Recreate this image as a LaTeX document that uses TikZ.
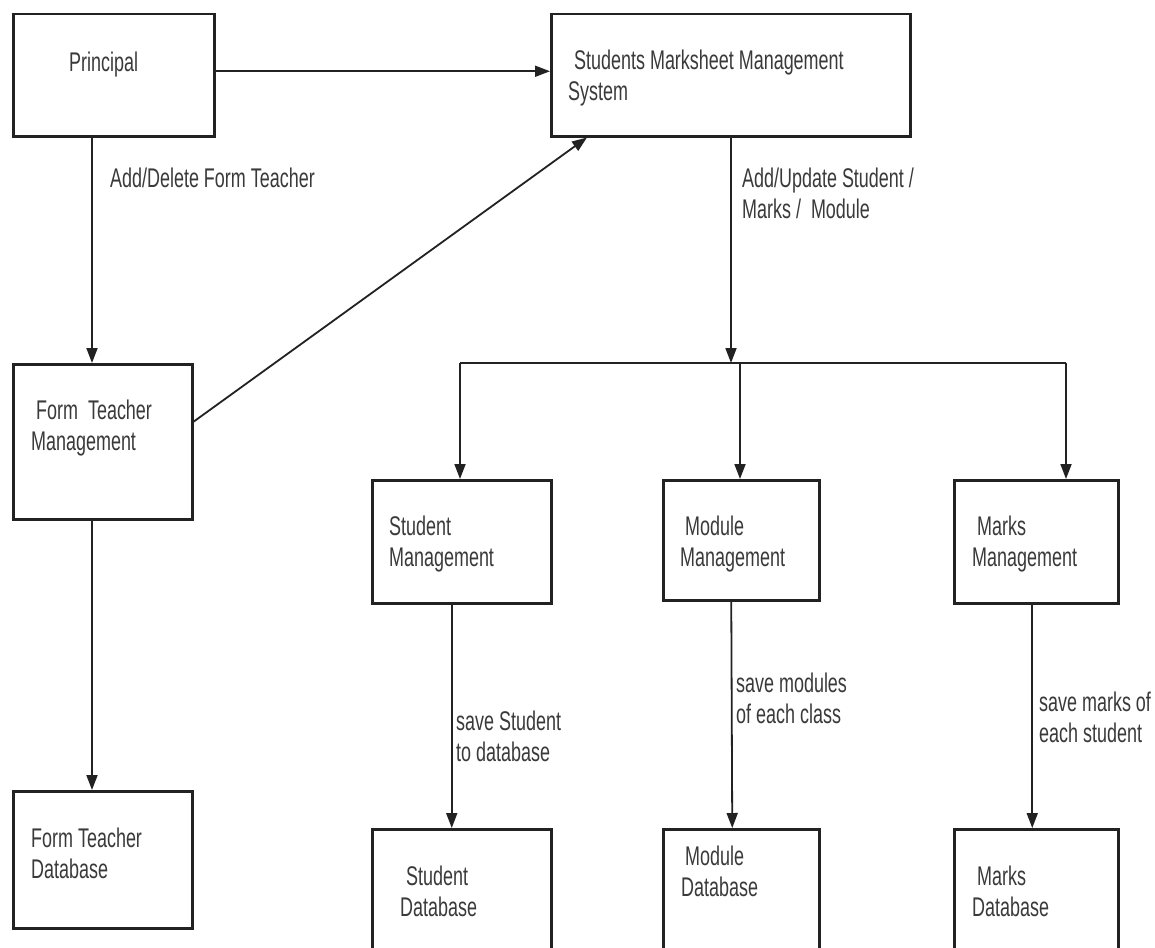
\documentclass[tikz,border=0pt]{standalone}
\usepackage{fontspec}
\setmainfont{Liberation Sans}[FakeStretch=0.665]
\usetikzlibrary{arrows.meta}
\definecolor{linec}{HTML}{222222}
\definecolor{txtc}{HTML}{3A3A3A}
\begin{document}
\begin{tikzpicture}[x=1pt,y=-1pt,
  box/.style={draw=linec, line width=2.5pt, inner sep=0pt, anchor=north west, fill=white},
  lbl/.style={text=txtc, inner sep=0pt, anchor=base west, align=left, font=\fontsize{27}{31}\selectfont},
  arr/.style={draw=linec, line width=1.8pt, -{Triangle[length=15pt,width=11pt]}},
  ln/.style={draw=linec, line width=1.8pt}]
\useasboundingbox (0,0) rectangle (1155,947);
\clip (0,0) rectangle (1155,947);
\fill[white] (0,0) rectangle (1155,947);
% boxes
\node[box, minimum width=201pt, minimum height=122pt] (p) at (12,13) {};
\node[box, minimum width=359pt, minimum height=122pt] (sms) at (550,13) {};
\node[box, minimum width=179pt, minimum height=155pt] (ftm) at (12,363) {};
\node[box, minimum width=179pt, minimum height=137pt] (ftd) at (12,790) {};
\node[box, minimum width=179pt, minimum height=123pt] (sm) at (371,479) {};
\node[box, minimum width=156pt, minimum height=120pt] (mm) at (662,479) {};
\node[box, minimum width=164pt, minimum height=123pt] (km) at (953,479) {};
\node[box, minimum width=179pt, minimum height=140pt] (sd) at (371,828) {};
\node[box, minimum width=156pt, minimum height=140pt] (md) at (662,828) {};
\node[box, minimum width=164pt, minimum height=140pt] (kd) at (953,828) {};
% box texts (anchor = baseline of last line)
\node[lbl] (tp) at (69,72) {Principal};
\node[lbl] (tsms) at (568,101) {\hspace*{6pt}Students Marksheet Management\\System};
\node[lbl] (tftm) at (31,450) {\hspace*{5pt}Form\ \ Teacher\\Management};
\node[lbl] (tftd) at (31,878) {Form Teacher\\Database};
\node[lbl] (tsm) at (389,566) {Student\\Management};
\node[lbl] (tmm) at (680,566) {\hspace*{5pt}Module\\Management};
\node[lbl] (tkm) at (972,566) {\hspace*{5pt}Marks\\Management};
\node[lbl] (tsd) at (400,916) {\hspace*{6pt}Student\\Database};
\node[lbl] (tmd) at (681,896) {\hspace*{4pt}Module\\Database};
\node[lbl] (tkd) at (972,916) {\hspace*{5pt}Marks\\Database};
% connector labels
\node[lbl] (l1) at (110,187) {Add/Delete Form Teacher};
\node[lbl] (l2) at (742,218) {Add/Update Student /\\Marks /\ \ Module};
\node[lbl] (l3) at (456,761) {save Student\\to database};
\node[lbl] (l4) at (736,723) {save modules\\of each class};
\node[lbl] (l5) at (1039,742) {save marks of\\each student};
% junction coordinates
\coordinate (j) at (731,363);
\coordinate (bl) at (460,363);
\coordinate (bm) at (740,363);
\coordinate (br) at (1066,363);
% connectors
\draw[arr] ([yshift=4pt]p.east) -- ([yshift=4pt]p.east -| sms.west);
\draw[arr] ([xshift=80pt]p.south west) -- ([xshift=80pt]ftm.north west);
\draw[arr] ([yshift=20pt]ftm.east) -- ([xshift=37pt]sms.south west);
\draw[arr] ([xshift=80pt]ftm.south west) -- ([xshift=80pt]ftd.north west);
\draw[arr] (sms.south -| j) -- (j);
\draw[ln] (bl) -- (br);
\draw[arr] (bl) -- (bl |- sm.north);
\draw[arr] (bm) -- (bm |- mm.north);
\draw[arr] (br) -- (br |- km.north);
\draw[arr] ([xshift=-10pt]sm.south) -- ([xshift=-10pt]sd.north);
\draw[arr] ([xshift=-10pt]mm.south) -- ([xshift=-9pt]md.north);
\draw[arr] ([xshift=-4pt]km.south) -- ([xshift=-4pt]kd.north);
\end{tikzpicture}
\end{document}
